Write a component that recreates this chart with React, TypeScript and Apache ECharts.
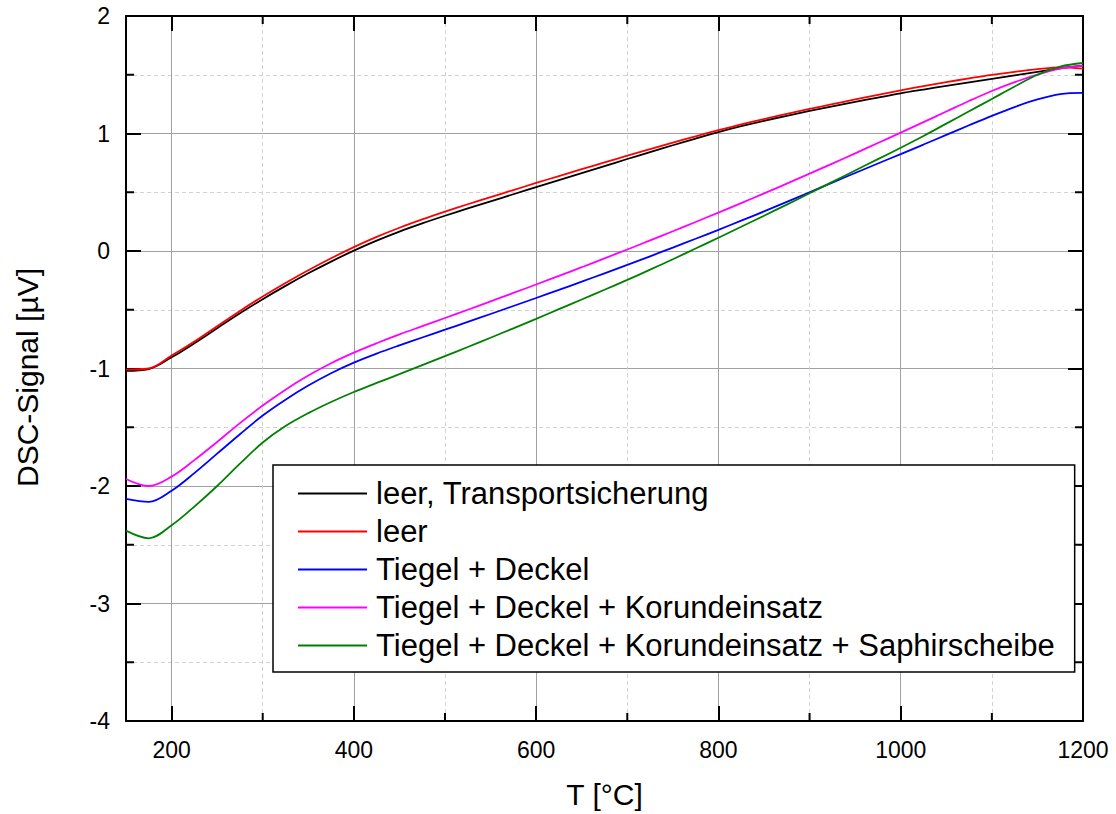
import React, { useEffect, useRef } from 'react';
import * as echarts from 'echarts';

const temperatures = [150, 175, 200, 225, 250, 275, 300, 325, 350, 375, 400, 425, 450, 475, 500, 525, 550, 575, 600, 625, 650, 675, 700, 725, 750, 775, 800, 825, 850, 875, 900, 925, 950, 975, 1000, 1025, 1050, 1075, 1100, 1125, 1150, 1175, 1200];

const leerTransport = [-1.02, -1.005, -0.905, -0.785, -0.657, -0.53, -0.41, -0.297, -0.19, -0.09, 0.003, 0.088, 0.165, 0.235, 0.3, 0.362, 0.423, 0.483, 0.543, 0.603, 0.663, 0.723, 0.783, 0.842, 0.9, 0.957, 1.012, 1.062, 1.108, 1.151, 1.192, 1.231, 1.269, 1.306, 1.342, 1.374, 1.405, 1.435, 1.465, 1.495, 1.525, 1.555, 1.577];
const leer = [-1.01, -1.0, -0.89, -0.77, -0.64, -0.51, -0.387, -0.272, -0.164, -0.062, 0.033, 0.12, 0.198, 0.269, 0.335, 0.398, 0.459, 0.519, 0.579, 0.638, 0.696, 0.754, 0.811, 0.867, 0.922, 0.976, 1.028, 1.077, 1.123, 1.167, 1.209, 1.25, 1.29, 1.329, 1.367, 1.403, 1.437, 1.469, 1.499, 1.525, 1.547, 1.562, 1.552];
const tiegelDeckel = [-2.11, -2.135, -2.04, -1.89, -1.725, -1.56, -1.4, -1.265, -1.145, -1.04, -0.95, -0.873, -0.803, -0.736, -0.67, -0.603, -0.536, -0.468, -0.4, -0.331, -0.261, -0.19, -0.118, -0.045, 0.029, 0.104, 0.18, 0.258, 0.337, 0.418, 0.5, 0.582, 0.664, 0.745, 0.825, 0.906, 0.988, 1.07, 1.15, 1.225, 1.29, 1.335, 1.345];
const tiegelKorund = [-1.94, -2.0, -1.92, -1.78, -1.625, -1.465, -1.315, -1.18, -1.06, -0.955, -0.865, -0.785, -0.71, -0.64, -0.57, -0.5, -0.429, -0.357, -0.285, -0.212, -0.138, -0.063, 0.013, 0.09, 0.168, 0.247, 0.327, 0.408, 0.49, 0.573, 0.658, 0.744, 0.831, 0.919, 1.007, 1.097, 1.187, 1.277, 1.362, 1.437, 1.502, 1.552, 1.577];
const tiegelSaphir = [-2.38, -2.445, -2.335, -2.175, -2.0, -1.81, -1.63, -1.49, -1.38, -1.285, -1.2, -1.123, -1.048, -0.972, -0.895, -0.817, -0.738, -0.658, -0.577, -0.495, -0.413, -0.33, -0.246, -0.159, -0.07, 0.021, 0.113, 0.206, 0.3, 0.395, 0.491, 0.588, 0.685, 0.782, 0.879, 0.979, 1.084, 1.189, 1.294, 1.4, 1.5, 1.57, 1.6];

const seriesNames = [
  'leer, Transportsicherung',
  'leer',
  'Tiegel + Deckel',
  'Tiegel + Deckel + Korundeinsatz',
  'Tiegel + Deckel + Korundeinsatz + Saphirscheibe',
];
const seriesValues = [leerTransport, leer, tiegelDeckel, tiegelKorund, tiegelSaphir];
const seriesColors = ['#000000', '#ff0000', '#0000ff', '#ff00ff', '#008000'];

const xMinorTicks = [300, 500, 700, 900, 1100];
const yMinorTicks = [-3.5, -2.5, -1.5, -0.5, 0.5, 1.5];

const xTitle = 'T [°C]';
const yTitle = 'DSC-Signal [µV]';

const X_MIN = 150;
const X_MAX = 1200;
const Y_MIN = -4;
const Y_MAX = 2;

const FONT = 'Liberation Sans, Arial, Helvetica, sans-serif';

export default function App() {
  const ref = useRef<HTMLDivElement>(null);

  useEffect(() => {
    document.body.style.margin = '0';
    const chart = echarts.init(ref.current as HTMLDivElement, null, { renderer: 'svg' });

    const mkAxisLine = () => ({ show: true, onZero: false, lineStyle: { color: '#000', width: 2 } });
    const mkTick = () => ({ show: true, inside: true, length: 15, lineStyle: { color: '#000', width: 2 } });
    const splitLine = { show: true, lineStyle: { color: '#a0a0a0', width: 1 } };
    const minorSplitLine = { show: true, lineStyle: { color: '#d2d2d2', width: 1, type: [4, 3] } };
    const minorStroke = { stroke: '#000', lineWidth: 2 };

    const option: any = {
      animation: false,
      grid: { left: 126, right: 33, top: 16, bottom: 91 },
      legend: {
        data: seriesNames,
        orient: 'vertical',
        left: 273,
        top: 465,
        padding: [13, 20, 11, 25],
        itemGap: 7,
        itemWidth: 69,
        itemHeight: 2,
        icon: 'rect',
        backgroundColor: '#fff',
        borderColor: '#000',
        borderWidth: 1.5,
        selectedMode: false,
        textStyle: { fontSize: 31, fontFamily: FONT, color: '#000', lineHeight: 30, padding: [0, 0, 0, 4] },
      },
      xAxis: [
        {
          type: 'value', min: X_MIN, max: X_MAX, position: 'bottom',
          axisLine: mkAxisLine(), axisTick: mkTick(),
          minorTick: { show: false, splitNumber: 2 },
          splitLine, minorSplitLine,
          axisLabel: { color: '#000', fontSize: 23, fontFamily: FONT, margin: 17, showMinLabel: false,
            formatter: (v: number) => (v === X_MIN ? '' : String(v)) },
          name: xTitle, nameLocation: 'middle', nameGap: 58,
          nameTextStyle: { fontSize: 30, fontFamily: FONT, color: '#000' },
        },
        {
          type: 'value', min: X_MIN, max: X_MAX, position: 'top',
          axisLine: mkAxisLine(), axisTick: mkTick(),
          splitLine: { show: false }, axisLabel: { show: false },
        },
      ],
      yAxis: [
        {
          type: 'value', min: Y_MIN, max: Y_MAX, interval: 1, position: 'left',
          axisLine: mkAxisLine(), axisTick: mkTick(),
          minorTick: { show: false, splitNumber: 2 },
          splitLine, minorSplitLine,
          axisLabel: { color: '#000', fontSize: 23, fontFamily: FONT, margin: 16 },
          name: yTitle, nameLocation: 'middle', nameGap: 84, nameRotate: 90,
          nameTextStyle: { fontSize: 30, fontFamily: FONT, color: '#000', padding: [0, 18, 0, 0] },
        },
        {
          type: 'value', min: Y_MIN, max: Y_MAX, interval: 1, position: 'right',
          axisLine: mkAxisLine(), axisTick: mkTick(),
          splitLine: { show: false }, axisLabel: { show: false },
        },
      ],
      series: [
        ...seriesNames.map((name, i) => ({
          name,
          type: 'line',
          data: temperatures.map((t, j) => [t, seriesValues[i][j]]),
          symbol: 'none',
          smooth: 0.35,
          z: 2 + i,
          lineStyle: { color: seriesColors[i], width: 1.8 },
          itemStyle: { color: seriesColors[i] },
        })),
        {
          name: 'xMinorTicks',
          type: 'custom',
          silent: true,
          z: 10,
          data: xMinorTicks.map((v) => [v, Y_MIN]),
          renderItem: (params: any, api: any) => {
            const pb = api.coord([api.value(0), Y_MIN]);
            const pt = api.coord([api.value(0), Y_MAX]);
            return {
              type: 'group',
              children: [
                { type: 'line', shape: { x1: pb[0], y1: pb[1], x2: pb[0], y2: pb[1] - 8 }, style: { ...minorStroke } },
                { type: 'line', shape: { x1: pt[0], y1: pt[1], x2: pt[0], y2: pt[1] + 8 }, style: { ...minorStroke } },
              ],
            };
          },
        },
        {
          name: 'yMinorTicks',
          type: 'custom',
          silent: true,
          z: 10,
          data: yMinorTicks.map((v) => [X_MIN, v]),
          renderItem: (params: any, api: any) => {
            const pl = api.coord([X_MIN, api.value(1)]);
            const pr = api.coord([X_MAX, api.value(1)]);
            return {
              type: 'group',
              children: [
                { type: 'line', shape: { x1: pl[0], y1: pl[1], x2: pl[0] + 8, y2: pl[1] }, style: { ...minorStroke } },
                { type: 'line', shape: { x1: pr[0], y1: pr[1], x2: pr[0] - 8, y2: pr[1] }, style: { ...minorStroke } },
              ],
            };
          },
        },
      ],
    };

    chart.setOption(option);
    return () => chart.dispose();
  }, []);

  return <div ref={ref} style={{ width: 1116, height: 814 }} />;
}
